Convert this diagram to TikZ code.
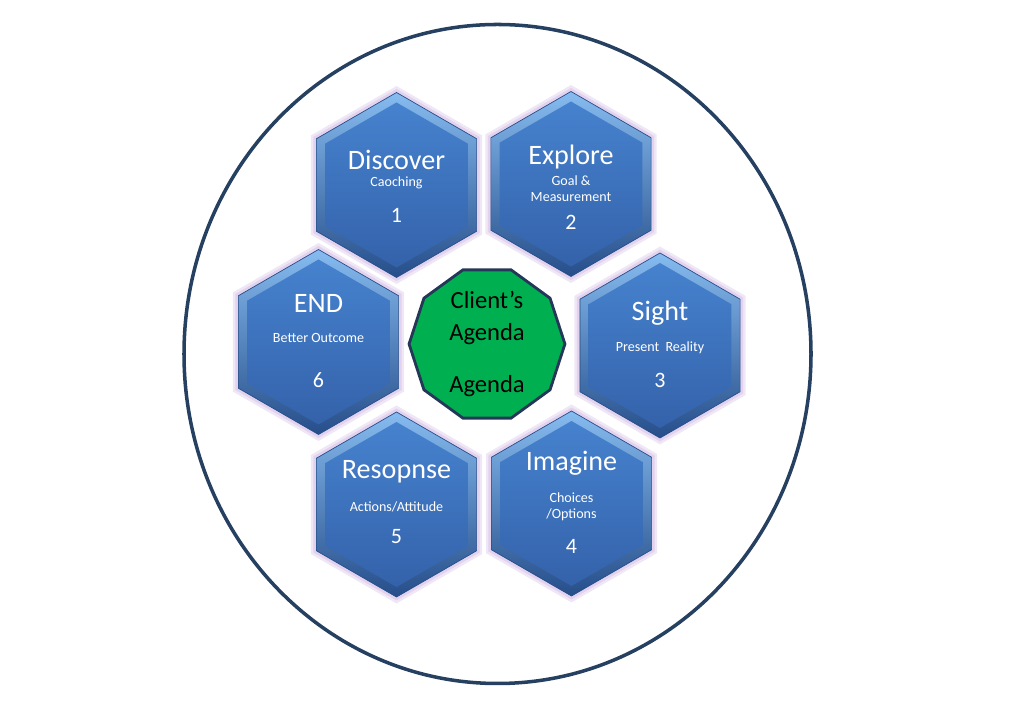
\documentclass[tikz,border=0pt]{standalone}
\usepackage{fontspec}
\setmainfont{Carlito}
\usepackage{tikz}
\usetikzlibrary{shapes.geometric}

\definecolor{ringblue}{RGB}{37,64,97}
\definecolor{lav}{RGB}{226,210,238}
\definecolor{bevtop}{RGB}{135,188,240}
\definecolor{bevbot}{RGB}{38,78,138}
\definecolor{facetop}{RGB}{70,130,206}
\definecolor{facebot}{RGB}{52,98,170}
\definecolor{agendagreen}{RGB}{0,176,80}
\definecolor{agendaline}{RGB}{36,55,88}

\begin{document}
\begin{tikzpicture}[
        hexbase/.style={
            regular polygon,
            regular polygon sides=6,
            shape border rotate=30,
            inner sep=0pt
        },
        glow/.style={
            hexbase,
            minimum size=3.96cm,
            fill=lav!55
        },
        innerglow/.style={
            hexbase,
            minimum size=3.84cm,
            fill=lav
        },
        hexcell/.style={
            hexbase,
            minimum size=3.70cm,
            top color=bevtop,
            bottom color=bevbot,
            draw=bevbot,
            line width=0.4pt
        },
        hexface/.style={
            hexbase,
            minimum size=3.30cm,
            top color=facetop,
            bottom color=facebot
        },
        title/.style={text=white, font=\fontsize{16}{19}\selectfont},
        sub/.style={text=white, align=center, font=\fontsize{8}{9}\selectfont},
        num/.style={text=white, font=\fontsize{12.5}{14}\selectfont},
        agenda/.style={
            regular polygon,
            regular polygon sides=10,
            minimum size=2.96cm,
            inner sep=0pt,
            fill=agendagreen,
            draw=agendaline,
            line width=1.6pt,
            align=center,
            font=\fontsize{14}{18}\selectfont
        }
    ]
        \useasboundingbox (0,0) rectangle (20.26,14.04);

        % outer ring
        \draw[ringblue, line width=2pt] (9.95,6.96) ellipse [x radius=6.27cm, y radius=6.59cm];

        % glow behind the cells
        \foreach \cx/\cy in {7.93/10.34, 11.42/10.36, 13.20/7.13, 11.43/3.97, 7.93/3.95, 6.37/7.20} {
            \node[glow] at (\cx,\cy) {};
            \node[innerglow] at (\cx,\cy) {};
        }

        % the six cells
        \node[hexcell] (disc) at (7.93,10.34) {};
        \node[hexcell] (expl) at (11.42,10.36) {};
        \node[hexcell] (sight) at (13.20,7.13) {};
        \node[hexcell] (imag) at (11.43,3.97) {};
        \node[hexcell] (resp) at (7.93,3.95) {};
        \node[hexcell] (endc) at (6.37,7.20) {};

        \node[hexface] (disc-f) at (disc.center) {};
        \node[hexface] (expl-f) at (expl.center) {};
        \node[hexface] (sight-f) at (sight.center) {};
        \node[hexface] (imag-f) at (imag.center) {};
        \node[hexface] (resp-f) at (resp.center) {};
        \node[hexface] (endc-f) at (endc.center) {};

        % labels
        \node[title] (disc-t) at ([yshift=0.50cm]disc.center) {Discover};
        \node[sub] (disc-s) at ([yshift=0.04cm]disc.center) {Caoching};
        \node[num] (disc-n) at ([yshift=-0.60cm]disc.center) {1};

        \node[title] (expl-t) at ([yshift=0.54cm]expl.center) {Explore};
        \node[sub] (expl-s) at ([yshift=-0.10cm]expl.center) {Goal \&\\Measurement};
        \node[num] (expl-n) at ([yshift=-0.76cm]expl.center) {2};

        \node[title] (sight-t) at ([yshift=0.65cm]sight.center) {Sight};
        \node[sub] (sight-s) at ([yshift=-0.05cm]sight.center) {Present\ \ Reality};
        \node[num] (sight-n) at ([yshift=-0.69cm]sight.center) {3};

        \node[title] (imag-t) at ([yshift=0.81cm]imag.center) {Imagine};
        \node[sub] (imag-s) at ([yshift=-0.06cm]imag.center) {Choices\\/Options};
        \node[num] (imag-n) at ([yshift=-0.85cm]imag.center) {4};

        \node[title] (resp-t) at ([yshift=0.65cm]resp.center) {Resopnse};
        \node[sub] (resp-s) at ([yshift=-0.05cm]resp.center) {Actions/Attitude};
        \node[num] (resp-n) at ([yshift=-0.65cm]resp.center) {5};

        \node[title] (endc-t) at ([yshift=0.78cm]endc.center) {END};
        \node[sub] (endc-s) at ([yshift=0.08cm]endc.center) {Better Outcome};
        \node[num] (endc-n) at ([yshift=-0.76cm]endc.center) {6};

        % centre
        \node[agenda] (agenda) at (9.74,7.16) {Client’s\\Agenda\\[0.40cm]Agenda};
    \end{tikzpicture}
\end{document}
